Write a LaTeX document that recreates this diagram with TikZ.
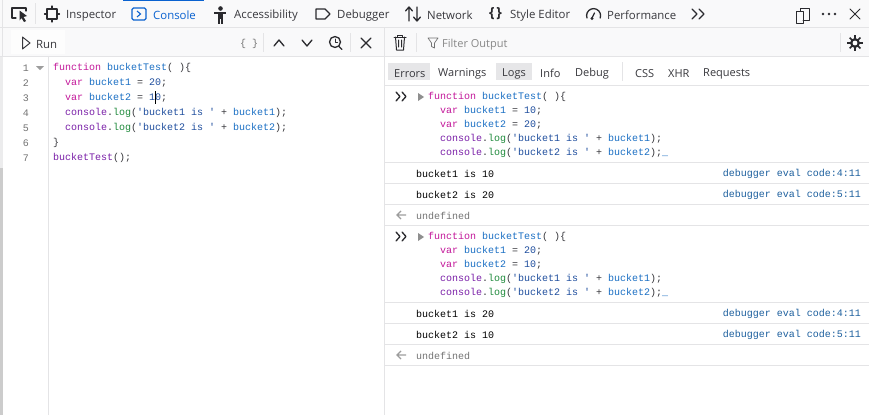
\documentclass[tikz,border=0pt]{standalone}
\usepackage{fontspec}
\setmainfont{Open Sans}
\setmonofont{Liberation Mono}
\definecolor{kw}{HTML}{C3189A}
\definecolor{vr}{HTML}{1A6FC4}
\definecolor{prop}{HTML}{7A1FA8}
\definecolor{fn}{HTML}{1F8A3C}
\definecolor{str}{HTML}{1F4E9E}
\definecolor{txt}{HTML}{38383D}
\definecolor{lnk}{HTML}{1C5F9E}
\definecolor{sep}{HTML}{E4E4E6}
\definecolor{bar}{HTML}{F9F9FA}
\definecolor{btn}{HTML}{E6E6E8}
\definecolor{ico}{HTML}{2A2A2E}
\definecolor{actv}{HTML}{0A62D0}
\definecolor{grayt}{HTML}{737373}
\newcommand{\K}[1]{\textcolor{kw}{#1}}
\newcommand{\V}[1]{\textcolor{vr}{#1}}
\newcommand{\Pp}[1]{\textcolor{prop}{#1}}
\newcommand{\Fn}[1]{\textcolor{fn}{#1}}
\newcommand{\St}[1]{\textcolor{str}{#1}}
\tikzset{
 x=1pt,y=-1pt,
 tab/.style={anchor=west,inner sep=0,yshift=-1.6pt,font=\fontsize{11.4}{14}\selectfont,text=txt},
 filt/.style={anchor=west,inner sep=0,yshift=-1.4pt,font=\fontsize{11}{14}\selectfont,text=txt},
 code/.style={anchor=west,inner sep=0,yshift=-.8pt,font=\ttfamily\fontsize{10}{12}\selectfont,text=txt},
 lnum/.style={anchor=east,inner sep=0,yshift=-.8pt,font=\ttfamily\fontsize{10}{12}\selectfont,text=grayt},
 loc/.style={anchor=east,inner sep=0,yshift=-.8pt,font=\ttfamily\fontsize{10}{12}\selectfont,text=lnk},
 line/.style={draw=sep,line width=.8pt},
 icon/.style={draw=ico,line width=1.3pt,line cap=round,line join=round},
 thin icon/.style={draw=ico,line width=1pt,line cap=round,line join=round},
}
\begin{document}
\begin{tikzpicture}
\useasboundingbox (0,0) rectangle (869,415);
\fill[white] (0,0) rectangle (869,415);
\fill[bar] (0,0) rectangle (869,27);
\fill[bar] (0,28) rectangle (869,56);
\fill[white] (384,57) rectangle (869,415);
\fill[sep!70] (0,57) rectangle (2.6,168);
\fill[black!20] (0,168) rectangle (2.6,415);
\draw[line] (0,27.5) -- (869,27.5);
\draw[line] (0,56.5) -- (869,56.5);
\draw[line] (384,85.5) -- (869,85.5);
\draw[line] (384,28) -- (384,415);
\draw[line] (48.5,57) -- (48.5,415);
\draw[line] (2.5,0) -- (2.5,57);
\draw[line] (35.5,3) -- (35.5,24);
\fill[actv] (123,0) rectangle (204,1.2);
% top toolbar icons
\draw[icon] (16,18) -- (12,18) -- (12,8) -- (26,8) -- (26,11);
\fill[ico] (19.5,10.5) -- (27,16) -- (23.5,17) -- (26,21) -- (24,22) -- (21.5,18) -- (19.5,20.5) -- cycle;
\draw[icon] (47,9) rectangle (57,19);
\draw[icon] (52,6) -- (52,8) (52,20) -- (52,22) (44.5,14) -- (46,14) (58,14) -- (59.5,14);
\draw[draw=actv,line width=1.3pt,rounded corners=1.5pt] (132,8) rectangle (146,20);
\draw[draw=actv,line width=1.1pt] (137,11) -- (140.5,14) -- (137,17);
\fill[ico] (220.5,8.5) circle (2.3);
\fill[ico] (214,11.5) rectangle (226,14);
\fill[ico] (218,14) rectangle (223,19);
\fill[ico] (218,19) rectangle (220,24);
\fill[ico] (221,19) rectangle (223,24);
\draw[icon] (316,9) -- (325,9) -- (330,14) -- (325,19) -- (316,19) -- cycle;
\draw[icon] (409,21) -- (409,7) (405.5,11) -- (409,7) -- (412.5,11);
\draw[icon] (417,7) -- (417,21) (413.5,17) -- (417,21) -- (420.5,17);
\node[tab] (tInsp) at (66,14) {Inspector};
\node[tab,text=actv] (tCons) at (153,14) {Console};
\node[tab] (tAcc) at (234,14) {Accessibility};
\node[tab] (tDbg) at (337,14) {Debugger};
\node[tab] (tNet) at (427,14) {Network};
\node[anchor=center,inner sep=0,font=\bfseries\fontsize{14}{16}\selectfont,text=ico] (tBr) at (495.5,14) {\{\kern1.5pt\}};
\node[tab] (tSty) at (510,14) {Style Editor};
\draw[icon] (587,18) arc (160:380:7);
\draw[icon] (592,18) -- (594.5,13);
\fill[ico] (592,18.5) circle (1.7);
\node[tab] (tPerf) at (607,14) {Performance};
\draw[icon] (692,9) -- (697,14) -- (692,19) (699,9) -- (704,14) -- (699,19);
\draw[thin icon] (796,11) rectangle (803,23);
\draw[thin icon] (800,11) -- (800,8) -- (809,8) -- (809,20) -- (803,20);
\fill[ico] (823,14) circle (1.3) (829,14) circle (1.3) (835,14) circle (1.3);
\draw[thin icon] (850,9) -- (860,19) (860,9) -- (850,19);
% editor toolbar
\fill[white!60!bar] (11,30) rectangle (65,54);
\draw[thin icon,draw=txt] (22.5,37) -- (30,43) -- (22.5,49) -- cycle;
\node[tab] (run) at (36,43) {Run};
\node[anchor=west,inner sep=0,yshift=-.8pt,text=grayt,font=\ttfamily\fontsize{10}{12}\selectfont] (pp) at (240,43) {\{ \}};
\draw[line] (263.5,33) -- (263.5,52);
\draw[line] (350.5,33) -- (350.5,52);
\draw[icon] (274,46) -- (279,40) -- (284,46);
\draw[icon] (302,40) -- (307,46) -- (312,40);
\draw[icon] (335,42) circle (5.5);
\draw[icon] (339,46.5) -- (342,49.5);
\draw[thin icon] (335,39) -- (335,42.5) -- (337.5,42.5);
\draw[icon] (361,38) -- (371,48) (371,38) -- (361,48);
% console toolbar
\draw[thin icon] (394,37) -- (406,37) (397.5,37) -- (397.5,35) -- (402.5,35) -- (402.5,37);
\draw[thin icon] (395.5,37) -- (396.5,50) -- (403.5,50) -- (404.5,37) (398.5,40) -- (398.5,47) (401.5,40) -- (401.5,47);
\draw[line] (416.5,33) -- (416.5,52);
\draw[draw=grayt,line width=.7pt,line join=round] (428,38) -- (438,38) -- (434.5,43) -- (434.5,48) -- (431.5,46.5) -- (431.5,43) -- cycle;
\node[filt,text=grayt!85] (flt) at (442,43) {Filter Output};
\draw[line] (840.5,33) -- (840.5,52);
\foreach \a in {0,45,...,315}{\draw[draw=ico,line width=1.6pt] (855,43) -- ++(\a:7.6);}
\fill[ico] (855,43) circle (5);
\fill[white] (855,43) circle (2.4);
% filter row
\fill[btn] (388,63) rectangle (430,80);
\fill[btn] (496,63) rectangle (532,80);
\node[filt] (fE) at (394,72) {Errors};
\node[filt] (fW) at (438,72) {Warnings};
\node[filt] (fL) at (502,72) {Logs};
\node[filt] (fI) at (540,72) {Info};
\node[filt] (fD) at (575,72) {Debug};
\draw[line] (622.5,62) -- (622.5,81);
\node[filt] (fC) at (635,72) {CSS};
\node[filt] (fX) at (668,72) {XHR};
\node[filt] (fR) at (703,72) {Requests};
% editor code
\foreach \n/\yy in {1/67,2/82,3/97,4/112,5/127,6/142,7/157}{\node[lnum] (ln\n) at (29,\yy) {\n};}
\fill[grayt!70] (36,66) -- (44,66) -- (40,70) -- cycle;
\node[code] (c1) at (53,67) {\K{function} \V{bucketTest}( )\{};
\node[code] (c2) at (65,82) {\K{var} \V{bucket1} = \St{20};};
\node[code] (c3) at (65,97) {\K{var} \V{bucket2} = \St{10};};
\node[code] (c4) at (65,112) {\Pp{console}.\Fn{log}(\St{'bucket1 is '} + \V{bucket1});};
\node[code] (c5) at (65,127) {\Pp{console}.\Fn{log}(\St{'bucket2 is '} + \V{bucket2});};
\node[code] (c6) at (53,142) {\}};
\node[code] (c7) at (53,157) {\Pp{bucketTest}();};
\fill[black] (155,91) rectangle (156,104);
% console separators
\foreach \yy in {162,183,204,225,302,323,344,365}{\draw[line] (385,\yy.5) -- (869,\yy.5);}
% block 1
\draw[icon] (396,92) -- (400,96.5) -- (396,101) (402,92) -- (406,96.5) -- (402,101);
\fill[grayt!80] (418,93) -- (424,97) -- (418,101) -- cycle;
\node[code] (a1) at (428,96) {\K{function} \V{bucketTest}( )\{};
\node[code] (a2) at (440,110) {\K{var} \V{bucket1} = \St{10};};
\node[code] (a3) at (440,124) {\K{var} \V{bucket2} = \St{20};};
\node[code] (a4) at (440,138) {\Pp{console}.\Fn{log}(\St{'bucket1 is '} + \V{bucket1});};
\node[code] (a5) at (440,152) {\Pp{console}.\Fn{log}(\St{'bucket2 is '} + \V{bucket2});\textcolor{vr}{\_}};
\node[code,text=black] (r1) at (416,173) {bucket1 is 10};
\node[code,text=black] (r2) at (416,194) {bucket2 is 20};
\node[code,text=grayt] (r3) at (416,215) {undefined};
\node[loc] (l1) at (861,173) {debugger eval code:4:11};
\node[loc] (l2) at (861,194) {debugger eval code:5:11};
\draw[draw=grayt!70,line width=1.2pt] (406,215) -- (397,215) (401,211) -- (397,215) -- (401,219);
% block 2
\draw[icon] (396,232) -- (400,236.5) -- (396,241) (402,232) -- (406,236.5) -- (402,241);
\fill[grayt!80] (418,233) -- (424,237) -- (418,241) -- cycle;
\node[code] (b1) at (428,236) {\K{function} \V{bucketTest}( )\{};
\node[code] (b2) at (440,250) {\K{var} \V{bucket1} = \St{20};};
\node[code] (b3) at (440,264) {\K{var} \V{bucket2} = \St{10};};
\node[code] (b4) at (440,278) {\Pp{console}.\Fn{log}(\St{'bucket1 is '} + \V{bucket1});};
\node[code] (b5) at (440,292) {\Pp{console}.\Fn{log}(\St{'bucket2 is '} + \V{bucket2});\textcolor{vr}{\_}};
\node[code,text=black] (s1) at (416,313) {bucket1 is 20};
\node[code,text=black] (s2) at (416,334) {bucket2 is 10};
\node[code,text=grayt] (s3) at (416,355) {undefined};
\node[loc] (m1) at (861,313) {debugger eval code:4:11};
\node[loc] (m2) at (861,334) {debugger eval code:5:11};
\draw[draw=grayt!70,line width=1.2pt] (406,355) -- (397,355) (401,351) -- (397,355) -- (401,359);
\end{tikzpicture}
\end{document}
